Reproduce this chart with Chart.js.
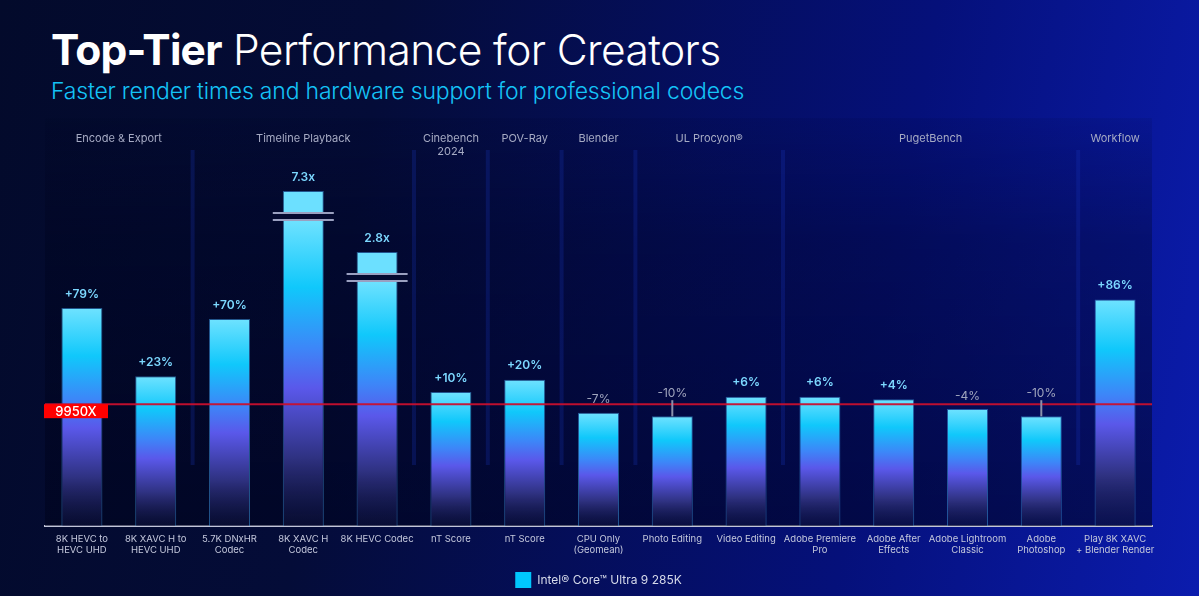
<!DOCTYPE html>
<html><head><meta charset="utf-8">
<script src="https://cdn.jsdelivr.net/npm/chart.js@4.4.1/dist/chart.umd.min.js"></script>
<style>
html,body{margin:0;padding:0;width:1199px;height:596px;overflow:hidden;}
body{position:relative;font-family:Inter,'Open Sans',sans-serif;
 background:linear-gradient(100deg,#030a2b 0%,#040c38 30%,#05107a 72%,#0b1cae 100%);}
#title{position:absolute;left:51px;top:25px;font-size:42.5px;line-height:50px;color:#fff;font-weight:300;letter-spacing:-0.6px;white-space:nowrap;}
#title b{font-weight:700;letter-spacing:-0.8px;}
#sub{position:absolute;left:51px;top:77px;font-size:23px;line-height:29px;color:#14c3f7;font-weight:300;letter-spacing:-0.2px;white-space:nowrap;}
#wrap{position:absolute;left:0;top:0;width:1199px;height:598px;}
</style></head>
<body>
<div id="title"><b>Top-Tier</b> Performance for Creators</div>
<div id="sub">Faster render times and hardware support for professional codecs</div>
<div id="wrap"><canvas id="c"></canvas></div>
<script>
// ---- data ----
const categories = [["8K HEVC to","HEVC UHD"],["8K XAVC H to","HEVC UHD"],["5.7K DNxHR","Codec"],["8K XAVC H","Codec"],"8K HEVC Codec","nT Score","nT Score",["CPU Only","(Geomean)"],"Photo Editing","Video Editing",["Adobe Premiere","Pro"],["Adobe After","Effects"],["Adobe Lightroom","Classic"],["Adobe","Photoshop"],["Play 8K XAVC","+ Blender Render"]];
const relativePerf = [1.79,1.23,1.70,7.3,2.8,1.10,1.20,0.93,0.90,1.06,1.06,1.04,0.96,0.90,1.86];
const valueLabels = ["+79%","+23%","+70%","7.3x","2.8x","+10%","+20%","-7%","-10%","+6%","+6%","+4%","-4%","-10%","+86%"];
const brokenBarCap = [null,null,null,2.75,2.25,null,null,null,null,null,null,null,null,null,null];
const groupNames = [["Encode & Export"],["Timeline Playback"],["Cinebench","2024"],["POV-Ray"],["Blender"],["UL Procyon®"],["PugetBench"],["Workflow"]];
const groupSizes = [2,3,1,1,1,2,4,1];
const baselineLabel = "9950X";
const baselineValue = 1;
const seriesName = "Intel® Core™ Ultra 9 285K";

const drawnValues = relativePerf.map((v,i)=> brokenBarCap[i] != null ? brokenBarCap[i] : v);

function barGradient(ctx){
  const chart = ctx.chart;
  const area = chart.chartArea;
  if(!area || ctx.dataIndex === undefined) return '#00c7fd';
  const y = chart.scales.y;
  const top = y.getPixelForValue(drawnValues[ctx.dataIndex]);
  const base = y.getPixelForValue(0);
  const g = chart.ctx.createLinearGradient(0, top, 0, base);
  let start = 0;
  if(brokenBarCap[ctx.dataIndex] != null){
    start = 29/(base-top);
    g.addColorStop(0,'#6ce0ff');
    g.addColorStop(start,'#6ce0ff');
  }
  const s = f => start + (1-start)*f;
  g.addColorStop(s(0),'#6fe2ff');
  g.addColorStop(s(0.22),'#10c8fb');
  g.addColorStop(s(0.42),'#3d86f8');
  g.addColorStop(s(0.55),'#5a58ea');
  g.addColorStop(s(0.78),'#2e3180');
  g.addColorStop(s(1),'rgba(20,24,70,0.35)');
  return g;
}

const decor = {
  id:'decor',
  beforeDatasetsDraw(chart){
    const {ctx, chartArea:a, scales:{x}} = chart;
    ctx.save();
    const pg = ctx.createLinearGradient(0,118,0,a.bottom);
    pg.addColorStop(0,'rgba(0,3,28,0.08)');
    pg.addColorStop(0.3,'rgba(0,3,28,0.35)');
    pg.addColorStop(1,'rgba(0,3,28,0.55)');
    ctx.fillStyle = pg;
    ctx.fillRect(a.left,118,a.right-a.left,a.bottom-118);
    let idx = 0;
    ctx.font = '11px Inter, "Open Sans", sans-serif';
    ctx.textAlign='center'; ctx.textBaseline='middle';
    groupSizes.forEach((n,gi)=>{
      const first = idx, last = idx+n-1;
      const cx = (x.getPixelForValue(first)+x.getPixelForValue(last))/2;
      ctx.fillStyle = '#a6abc4';
      groupNames[gi].forEach((ln,li)=> ctx.fillText(ln, cx, 139+li*13));
      if(gi>0){
        const bx = (x.getPixelForValue(first-1)+x.getPixelForValue(first))/2;
        ctx.fillStyle = 'rgba(25,55,190,0.25)';
        ctx.fillRect(bx-2,150,4,315);
      }
      idx += n;
    });
    ctx.restore();
  },
  afterDatasetsDraw(chart){
    const {ctx, chartArea:a, scales:{x,y}} = chart;
    const meta = chart.getDatasetMeta(0);
    ctx.save();
    meta.data.forEach((bar,i)=>{
      if(brokenBarCap[i]==null) return;
      const top = bar.y;
      const l = bar.x - bar.width/2 - 10, r = bar.x + bar.width/2 + 10;
      ctx.fillStyle = '#040a30';
      ctx.fillRect(l, top+22, r-l, 7);
      ctx.strokeStyle = '#9aa0c0'; ctx.lineWidth = 2;
      ctx.beginPath(); ctx.moveTo(l,top+22); ctx.lineTo(r,top+22);
      ctx.moveTo(l,top+29); ctx.lineTo(r,top+29); ctx.stroke();
    });
    const by = y.getPixelForValue(baselineValue);
    ctx.strokeStyle = 'rgba(200,16,46,0.95)'; ctx.lineWidth = 2;
    ctx.beginPath(); ctx.moveTo(a.left, by); ctx.lineTo(a.right, by); ctx.stroke();
    ctx.fillStyle = '#ff0000';
    ctx.fillRect(44, by, 64, 14);
    ctx.fillStyle = '#ffffff';
    ctx.font = '500 13px Inter, "Open Sans", sans-serif';
    ctx.textAlign='center'; ctx.textBaseline='middle';
    ctx.fillText(baselineLabel, 76, by+7.5);
    meta.data.forEach((bar,i)=>{
      const v = relativePerf[i];
      const top = bar.y;
      if(v >= 1){
        ctx.fillStyle = '#7cd8ff';
        ctx.font = '600 12px Inter, "Open Sans", sans-serif';
        ctx.fillText(valueLabels[i], bar.x, top-14);
      } else {
        ctx.fillStyle = '#a0a6be';
        ctx.font = '12px Inter, "Open Sans", sans-serif';
        let ly = top-13;
        if(ly > by-4){
          ly = by-11;
          ctx.strokeStyle = '#8a90aa'; ctx.lineWidth = 2;
          ctx.beginPath(); ctx.moveTo(bar.x, ly+7); ctx.lineTo(bar.x, top); ctx.stroke();
        }
        ctx.fillText(valueLabels[i], bar.x, ly);
      }
    });
    ctx.restore();
  }
};

Chart.defaults.font.family = 'Inter, "Open Sans", sans-serif';
new Chart(document.getElementById('c'), {
  type:'bar',
  data:{
    labels: categories,
    datasets:[{
      label: seriesName,
      data: drawnValues,
      backgroundColor: barGradient,
      borderColor: 'rgba(60,150,220,0.55)',
      borderWidth: {top:1,left:1,right:1,bottom:0},
      barPercentage: 0.556,
      categoryPercentage: 1
    }]
  },
  options:{
    responsive:true, maintainAspectRatio:false, animation:false,
    layout:{padding:{top:124,left:45,right:47,bottom:0}},
    scales:{
      y:{display:false,min:0,max:3.3},
      x:{
        grid:{display:false,drawTicks:false},
        border:{display:true,color:'#c2c6da',width:2},
        ticks:{color:'#c4c8dc',font:{size:9.5},padding:7,maxRotation:0,autoSkip:false},
        afterFit(s){ s.height = 41; }
      }
    },
    plugins:{
      tooltip:{enabled:false},
      legend:{
        position:'bottom',
        labels:{
          boxWidth:16, boxHeight:16, padding:5, color:'#d6daea', font:{size:12},
          generateLabels: ()=>[{text:seriesName, fillStyle:'#00c7fd', strokeStyle:'#00c7fd', lineWidth:0, fontColor:'#d6daea', datasetIndex:0}]
        }
      }
    }
  },
  plugins:[decor]
});
</script>
</body></html>
